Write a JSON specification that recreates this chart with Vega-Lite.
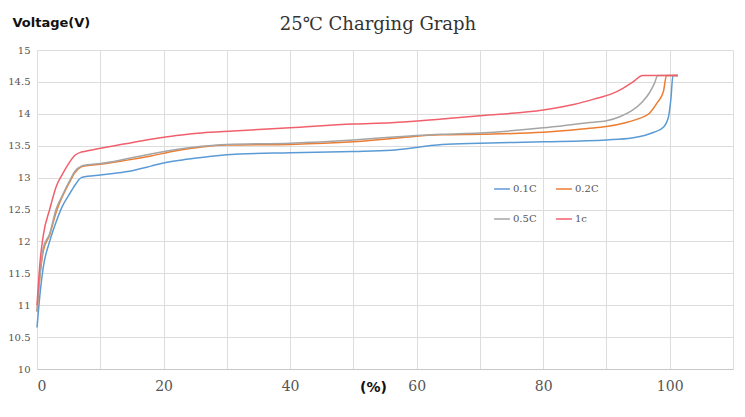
{
  "$schema": "https://vega.github.io/schema/vega-lite/v6.json",
  "autosize": "none",
  "width": 696,
  "height": 319,
  "padding": {"left": 37, "top": 50, "right": 12, "bottom": 48},
  "background": "white",
  "title": {
    "text": "25℃ Charging Graph",
    "font": "DejaVu Serif",
    "fontSize": 18,
    "fontWeight": "normal",
    "color": "#333333",
    "anchor": "middle",
    "dx": -7,
    "offset": -18
  },
  "config": {
    "view": {"stroke": null},
    "axis": {"gridColor": "#dddddd", "ticks": false, "domain": false}
  },
  "data": {
    "values": [
      {"s": "0.1C", "x": 0, "v": 10.65}, {"s": "0.1C", "x": 0.5, "v": 11.2}, {"s": "0.1C", "x": 1, "v": 11.6},
      {"s": "0.1C", "x": 2, "v": 12.0}, {"s": "0.1C", "x": 3, "v": 12.3}, {"s": "0.1C", "x": 4, "v": 12.55},
      {"s": "0.1C", "x": 5, "v": 12.72}, {"s": "0.1C", "x": 6, "v": 12.88}, {"s": "0.1C", "x": 7, "v": 13.0},
      {"s": "0.1C", "x": 8, "v": 13.02}, {"s": "0.1C", "x": 10, "v": 13.04}, {"s": "0.1C", "x": 14, "v": 13.09},
      {"s": "0.1C", "x": 18, "v": 13.18}, {"s": "0.1C", "x": 20, "v": 13.23}, {"s": "0.1C", "x": 24, "v": 13.29},
      {"s": "0.1C", "x": 28, "v": 13.34}, {"s": "0.1C", "x": 32, "v": 13.37}, {"s": "0.1C", "x": 40, "v": 13.39},
      {"s": "0.1C", "x": 50, "v": 13.41}, {"s": "0.1C", "x": 56, "v": 13.43}, {"s": "0.1C", "x": 59, "v": 13.46},
      {"s": "0.1C", "x": 62, "v": 13.5}, {"s": "0.1C", "x": 64, "v": 13.52}, {"s": "0.1C", "x": 70, "v": 13.54},
      {"s": "0.1C", "x": 80, "v": 13.56}, {"s": "0.1C", "x": 90, "v": 13.59}, {"s": "0.1C", "x": 94, "v": 13.62},
      {"s": "0.1C", "x": 96, "v": 13.66}, {"s": "0.1C", "x": 97.5, "v": 13.71}, {"s": "0.1C", "x": 99, "v": 13.79},
      {"s": "0.1C", "x": 99.8, "v": 13.95}, {"s": "0.1C", "x": 100.2, "v": 14.25}, {"s": "0.1C", "x": 100.5, "v": 14.6},
      {"s": "0.1C", "x": 101.3, "v": 14.6},

      {"s": "0.2C", "x": 0, "v": 10.9}, {"s": "0.2C", "x": 0.5, "v": 11.5}, {"s": "0.2C", "x": 1, "v": 11.85},
      {"s": "0.2C", "x": 2, "v": 12.1}, {"s": "0.2C", "x": 3, "v": 12.45}, {"s": "0.2C", "x": 4, "v": 12.7},
      {"s": "0.2C", "x": 5, "v": 12.9}, {"s": "0.2C", "x": 6, "v": 13.08}, {"s": "0.2C", "x": 7, "v": 13.17},
      {"s": "0.2C", "x": 8, "v": 13.19}, {"s": "0.2C", "x": 10, "v": 13.21}, {"s": "0.2C", "x": 14, "v": 13.27},
      {"s": "0.2C", "x": 18, "v": 13.34}, {"s": "0.2C", "x": 22, "v": 13.42}, {"s": "0.2C", "x": 26, "v": 13.48},
      {"s": "0.2C", "x": 30, "v": 13.51}, {"s": "0.2C", "x": 40, "v": 13.52}, {"s": "0.2C", "x": 50, "v": 13.56},
      {"s": "0.2C", "x": 57, "v": 13.62}, {"s": "0.2C", "x": 60, "v": 13.65}, {"s": "0.2C", "x": 64, "v": 13.67},
      {"s": "0.2C", "x": 70, "v": 13.68}, {"s": "0.2C", "x": 80, "v": 13.71}, {"s": "0.2C", "x": 87, "v": 13.77},
      {"s": "0.2C", "x": 90, "v": 13.8}, {"s": "0.2C", "x": 93, "v": 13.86}, {"s": "0.2C", "x": 95, "v": 13.92},
      {"s": "0.2C", "x": 96.8, "v": 14.01}, {"s": "0.2C", "x": 98, "v": 14.17}, {"s": "0.2C", "x": 99, "v": 14.35},
      {"s": "0.2C", "x": 99.5, "v": 14.6}, {"s": "0.2C", "x": 101.3, "v": 14.6},

      {"s": "0.5C", "x": 0, "v": 10.9}, {"s": "0.5C", "x": 0.5, "v": 11.5}, {"s": "0.5C", "x": 1, "v": 11.9},
      {"s": "0.5C", "x": 2, "v": 12.12}, {"s": "0.5C", "x": 3, "v": 12.5}, {"s": "0.5C", "x": 4, "v": 12.72},
      {"s": "0.5C", "x": 5, "v": 12.92}, {"s": "0.5C", "x": 6, "v": 13.1}, {"s": "0.5C", "x": 7, "v": 13.18},
      {"s": "0.5C", "x": 8, "v": 13.2}, {"s": "0.5C", "x": 10, "v": 13.22}, {"s": "0.5C", "x": 14, "v": 13.29},
      {"s": "0.5C", "x": 18, "v": 13.37}, {"s": "0.5C", "x": 22, "v": 13.44}, {"s": "0.5C", "x": 26, "v": 13.49},
      {"s": "0.5C", "x": 30, "v": 13.52}, {"s": "0.5C", "x": 40, "v": 13.54}, {"s": "0.5C", "x": 50, "v": 13.59},
      {"s": "0.5C", "x": 57, "v": 13.64}, {"s": "0.5C", "x": 60, "v": 13.66}, {"s": "0.5C", "x": 64, "v": 13.68},
      {"s": "0.5C", "x": 70, "v": 13.7}, {"s": "0.5C", "x": 80, "v": 13.78}, {"s": "0.5C", "x": 87, "v": 13.86},
      {"s": "0.5C", "x": 90, "v": 13.89}, {"s": "0.5C", "x": 92, "v": 13.95}, {"s": "0.5C", "x": 94, "v": 14.05},
      {"s": "0.5C", "x": 95.7, "v": 14.19}, {"s": "0.5C", "x": 96.8, "v": 14.33}, {"s": "0.5C", "x": 97.6, "v": 14.48},
      {"s": "0.5C", "x": 98.1, "v": 14.6}, {"s": "0.5C", "x": 101.3, "v": 14.6},

      {"s": "1c", "x": 0, "v": 11.0}, {"s": "1c", "x": 0.5, "v": 11.7}, {"s": "1c", "x": 1, "v": 12.1},
      {"s": "1c", "x": 2, "v": 12.5}, {"s": "1c", "x": 3, "v": 12.85}, {"s": "1c", "x": 4, "v": 13.05},
      {"s": "1c", "x": 5, "v": 13.22}, {"s": "1c", "x": 6, "v": 13.35}, {"s": "1c", "x": 7, "v": 13.4},
      {"s": "1c", "x": 8, "v": 13.42}, {"s": "1c", "x": 10, "v": 13.46}, {"s": "1c", "x": 14, "v": 13.53},
      {"s": "1c", "x": 18, "v": 13.6}, {"s": "1c", "x": 22, "v": 13.66}, {"s": "1c", "x": 26, "v": 13.7},
      {"s": "1c", "x": 31, "v": 13.73}, {"s": "1c", "x": 40, "v": 13.78}, {"s": "1c", "x": 50, "v": 13.84},
      {"s": "1c", "x": 56, "v": 13.86}, {"s": "1c", "x": 64, "v": 13.92}, {"s": "1c", "x": 70, "v": 13.97},
      {"s": "1c", "x": 80, "v": 14.06}, {"s": "1c", "x": 85, "v": 14.15}, {"s": "1c", "x": 88, "v": 14.23},
      {"s": "1c", "x": 91, "v": 14.32}, {"s": "1c", "x": 92.6, "v": 14.4}, {"s": "1c", "x": 94.2, "v": 14.5},
      {"s": "1c", "x": 95.7, "v": 14.6}, {"s": "1c", "x": 101.3, "v": 14.6}
    ]
  },
  "mark": {"type": "line", "interpolate": "monotone", "strokeWidth": 1.5},
  "encoding": {
    "x": {
      "field": "x",
      "type": "quantitative",
      "scale": {"domain": [0, 110], "nice": false},
      "axis": {
        "values": [0, 10, 20, 30, 40, 50, 60, 70, 80, 90, 100, 110],
        "labelExpr": "datum.value % 20 == 0 && datum.value <= 100 ? datum.label : ''",
        "labelFont": "DejaVu Serif",
        "labelFontSize": 14,
        "labelColor": "#555555",
        "labelPadding": 10,
        "domain": true,
        "domainColor": "#c8c8c8",
        "title": "(%)",
        "titleFont": "DejaVu Sans",
        "titleFontSize": 14,
        "titleFontWeight": "bold",
        "titleColor": "#111111",
        "titleAnchor": null,
        "titleAlign": "center",
        "titleBaseline": "middle",
        "titleX": 336,
        "titleY": 18
      }
    },
    "y": {
      "field": "v",
      "type": "quantitative",
      "scale": {"domain": [10, 15], "nice": false, "zero": false},
      "axis": {
        "values": [10, 10.5, 11, 11.5, 12, 12.5, 13, 13.5, 14, 14.5, 15],
        "format": "~g",
        "labelFont": "DejaVu Serif",
        "labelFontSize": 10,
        "labelColor": "#555555",
        "labelPadding": 7,
        "title": "Voltage(V)",
        "titleFont": "DejaVu Sans",
        "titleFontSize": 13,
        "titleFontWeight": "bold",
        "titleColor": "#111111",
        "titleAngle": 0,
        "titleAlign": "left",
        "titleBaseline": "middle",
        "titleAnchor": null,
        "titleX": -25,
        "titleY": -28
      }
    },
    "color": {
      "field": "s",
      "type": "nominal",
      "scale": {
        "domain": ["0.1C", "0.2C", "0.5C", "1c"],
        "range": ["#5B9BD5", "#ED7D31", "#A5A5A5", "#F0606C"]
      },
      "legend": {
        "title": null,
        "orient": "none",
        "direction": "horizontal",
        "legendX": 456,
        "legendY": 130,
        "columns": 2,
        "columnPadding": 16,
        "rowPadding": 16,
        "symbolType": "stroke",
        "symbolSize": 250,
        "symbolStrokeWidth": 1.5,
        "labelFont": "DejaVu Serif",
        "labelFontSize": 10,
        "labelColor": "#555555",
        "labelOffset": 2
      }
    }
  }
}
